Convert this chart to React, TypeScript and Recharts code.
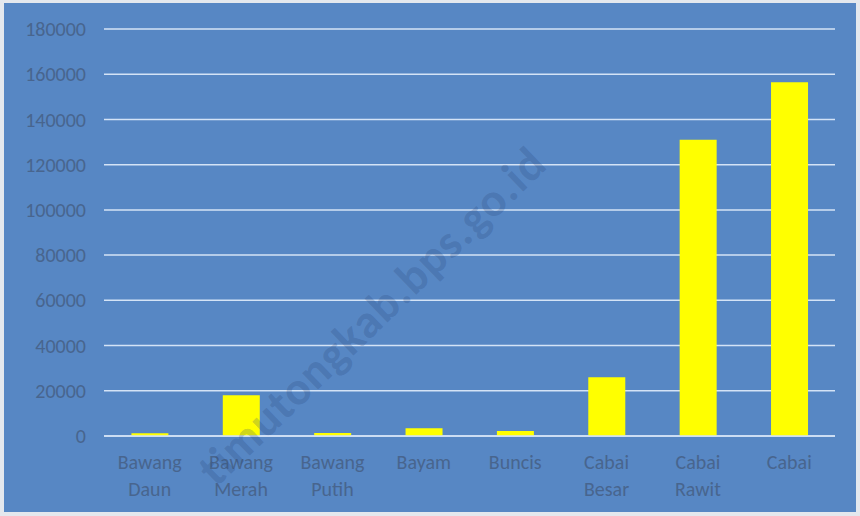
import React from "react";
import { BarChart, Bar, XAxis, YAxis, CartesianGrid } from "recharts";

const categories = ["Bawang Daun", "Bawang Merah", "Bawang Putih", "Bayam", "Buncis", "Cabai Besar", "Cabai Rawit", "Cabai"];
const production = [1200, 18000, 1300, 3400, 2200, 26000, 131000, 156500];
const yTicks = [0, 20000, 40000, 60000, 80000, 100000, 120000, 140000, 160000, 180000];

const data = categories.map((name, i) => ({ name, value: production[i] }));

const BG = "#5787c4";
const LABEL = "#48658e";
const GRID = "#d4e3f6";
const FONT = "Carlito, 'Open Sans', 'Noto Sans', sans-serif";

function CategoryTick(props: any) {
  const { x, y, payload } = props;
  const words = String(payload.value).split(" ");
  return (
    <text x={x} y={y} textAnchor="middle" fill={LABEL} fontSize={20} fontFamily={FONT}>
      {words.map((w, i) => (
        <tspan key={i} x={x} dy={i === 0 ? 25 : 27}>
          {w}
        </tspan>
      ))}
    </text>
  );
}

export default function App() {
  return (
    <div style={{ position: "fixed", left: 0, top: 0, width: 860, height: 516, background: "#e4e8ee" }}>
      <div style={{ position: "absolute", left: 4, top: 3, width: 852, height: 509, background: BG }} />
      <div style={{ position: "absolute", left: 0, top: 0 }}>
        <BarChart width={860} height={516} data={data} margin={{ top: 29, right: 25, bottom: 10, left: 0 }} barCategoryGap="30%">
          <CartesianGrid horizontal vertical={false} stroke={GRID} strokeWidth={1.5} />
          <XAxis
            dataKey="name"
            tick={<CategoryTick />}
            tickLine={false}
            axisLine={{ stroke: GRID, strokeWidth: 1.5 }}
            height={70}
            interval={0}
          />
          <YAxis
            domain={[0, 180000]}
            ticks={yTicks}
            width={104}
            tickLine={false}
            axisLine={false}
            tickMargin={12}
            tick={{ fill: LABEL, fontSize: 20, fontFamily: FONT }}
          />
          <Bar dataKey="value" fill="#ffff00" isAnimationActive={false} />
        </BarChart>
      </div>
      {/* watermark */}
      <div
        style={{
          position: "absolute",
          left: 372,
          top: 316,
          transform: "translate(-50%, -50%) rotate(-44deg)",
          whiteSpace: "nowrap",
          lineHeight: 1,
          fontFamily: FONT,
          fontWeight: 700,
          fontSize: 47,
          letterSpacing: 1,
          color: "rgba(40, 70, 120, 0.24)",
          pointerEvents: "none",
        }}
      >
        timutongkab.bps.go.id
      </div>
    </div>
  );
}
